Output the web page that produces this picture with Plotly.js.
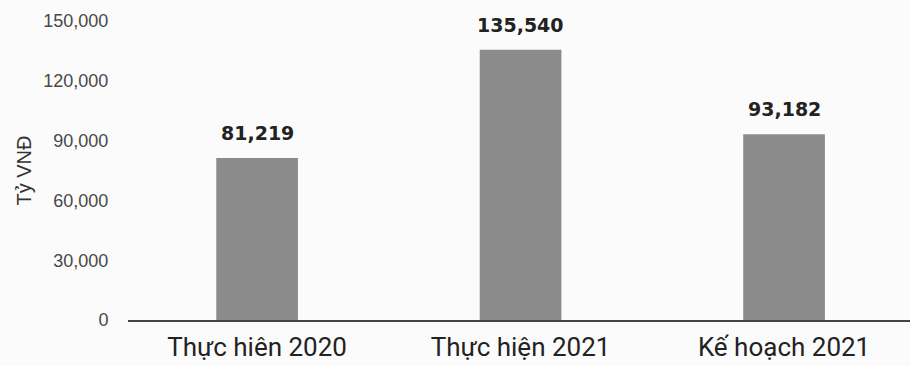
<!DOCTYPE html>
<html>
<head>
<meta charset="utf-8">
<script src="https://cdn.plot.ly/plotly-3.0.1.min.js"></script>
<style>
  html, body { margin: 0; padding: 0; background: #fbfbfb; }
  #chart { width: 910px; height: 366px; }
</style>
</head>
<body>
<div id="chart"></div>
<script>
const categories = ["Thực hiên 2020", "Thực hiện 2021", "Kế hoạch 2021"];
const values = [81219, 135540, 93182];
const valueLabels = ["81,219", "135,540", "93,182"];
const yTickValues = [0, 30000, 60000, 90000, 120000, 150000];
const yTickLabels = ["0", "30,000", "60,000", "90,000", "120,000", "150,000"];
const yTitle = "Tỷ VNĐ";

const trace = {
  type: "bar",
  x: categories,
  y: values,
  width: 0.31,
  marker: { color: "#8b8b8b" },
  hoverinfo: "none"
};

const annotations = categories.map((c, i) => ({
  x: c,
  y: values[i],
  xref: "x",
  yref: "y",
  text: valueLabels[i],
  showarrow: false,
  yanchor: "bottom",
  yshift: 12,
  font: { family: "DejaVu Sans", size: 19, color: "#222222", weight: "bold" }
}));

const layout = {
  width: 910,
  height: 366,
  margin: { l: 128, r: 0, t: 21, b: 46, pad: 0 },
  paper_bgcolor: "#fbfbfb",
  plot_bgcolor: "#fbfbfb",
  showlegend: false,
  xaxis: {
    type: "category",
    range: [-0.49, 2.478],
    showline: true,
    linecolor: "#444444",
    linewidth: 2,
    showgrid: false,
    zeroline: false,
    ticks: "outside",
    ticklen: 3,
    tickcolor: "rgba(0,0,0,0)",
    tickfont: { family: "Roboto", size: 26, color: "#222222" },
    fixedrange: true
  },
  yaxis: {
    range: [0, 150000],
    tickvals: yTickValues,
    ticktext: yTickLabels,
    showgrid: false,
    zeroline: false,
    showline: false,
    ticks: "outside",
    ticklen: 15,
    tickcolor: "rgba(0,0,0,0)",
    tickfont: { family: "Liberation Sans", size: 18, color: "#484848" },
    title: { text: yTitle, standoff: 6, font: { family: "Liberation Sans", size: 20, color: "#333333" } },
    automargin: false,
    fixedrange: true
  },
  annotations: annotations
};

Plotly.newPlot("chart", [trace], layout, { displayModeBar: false, staticPlot: true });
</script>
</body>
</html>
